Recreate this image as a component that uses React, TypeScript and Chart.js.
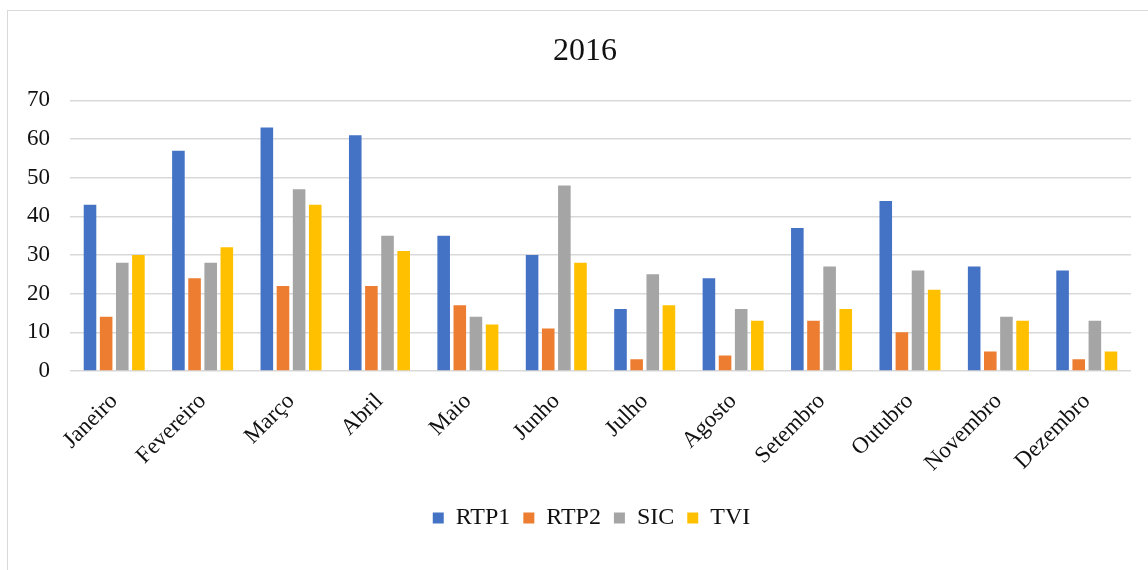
import React, { useEffect, useRef } from "react";
import { Chart, registerables } from "chart.js";

Chart.register(...registerables);

const months = ["Janeiro", "Fevereiro", "Março", "Abril", "Maio", "Junho", "Julho", "Agosto", "Setembro", "Outubro", "Novembro", "Dezembro"];
const rtp1 = [43, 57, 63, 61, 35, 30, 16, 24, 37, 44, 27, 26];
const rtp2 = [14, 24, 22, 22, 17, 11, 3, 4, 13, 10, 5, 3];
const sic = [28, 28, 47, 35, 14, 48, 25, 16, 27, 26, 14, 13];
const tvi = [30, 32, 43, 31, 12, 28, 17, 13, 16, 21, 13, 5];
const yTicks = [0, 10, 20, 30, 40, 50, 60, 70];
const title = "2016";

const FONT = "'Liberation Serif', 'Times New Roman', serif";

const blockShift = {
  id: "blockShift",
  afterLayout(chart: any) {
    const t = chart.titleBlock;
    if (t) t.left = 31;
    const l = chart.legend;
    if (l) l.left -= 18;
  },
};

export default function App() {
  const ref = useRef<HTMLCanvasElement | null>(null);
  useEffect(() => {
    if (!ref.current) return;
    const chart = new Chart(ref.current, {
      type: "bar",
      data: {
        labels: months,
        datasets: [
          { label: "RTP1", data: rtp1, backgroundColor: "#4472C4" },
          { label: "RTP2", data: rtp2, backgroundColor: "#ED7D31" },
          { label: "SIC", data: sic, backgroundColor: "#A5A5A5" },
          { label: "TVI", data: tvi, backgroundColor: "#FFC000" },
        ],
      },
      plugins: [blockShift],
      options: {
        responsive: false,
        animation: false,
        maintainAspectRatio: false,
        datasets: { bar: { categoryPercentage: 0.73, barPercentage: 0.78 } },
        layout: { padding: { left: 0, right: 17, top: 0, bottom: 30 } },
        plugins: {
          title: {
            display: true,
            text: title,
            color: "#111",
            font: { family: FONT, size: 32, weight: "normal" },
            padding: { top: 21, bottom: 30 },
          },
          legend: {
            position: "bottom",
            fullSize: false,
            labels: {
              color: "#111",
              font: { family: FONT, size: 24 },
              boxWidth: 11,
              boxHeight: 11,
              padding: 13,
            },
          },
          tooltip: { enabled: false },
        },
        scales: {
          x: {
            grid: { display: false, drawTicks: false },
            border: { display: false },
            afterFit: (s: any) => {
              s.height -= 1;
            },
            ticks: {
              color: "#111",
              font: { family: FONT, size: 23 },
              maxRotation: 45,
              minRotation: 45,
              padding: 17,
              autoSkip: false,
            },
          },
          y: {
            min: 0,
            max: 70,
            afterBuildTicks: (s: any) => {
              s.ticks = yTicks.map((v) => ({ value: v }));
            },
            afterFit: (s: any) => {
              s.width = 62;
            },
            grid: { color: "#D9D9D9", lineWidth: 1.5, drawTicks: false },
            border: { display: false },
            ticks: {
              color: "#111",
              font: { family: FONT, size: 23 },
              padding: 20,
            },
          },
        },
      },
    });
    return () => chart.destroy();
  }, []);
  return (
    <div
      style={{
        position: "absolute",
        left: 7,
        top: 10,
        width: 1141,
        height: 560,
        borderTop: "1px solid #D9D9D9",
        borderLeft: "1px solid #D9D9D9",
        boxSizing: "border-box",
        background: "#fff",
        overflow: "hidden",
      }}
    >
      <canvas ref={ref} width={1140} height={559} style={{ display: "block" }} />
    </div>
  );
}
